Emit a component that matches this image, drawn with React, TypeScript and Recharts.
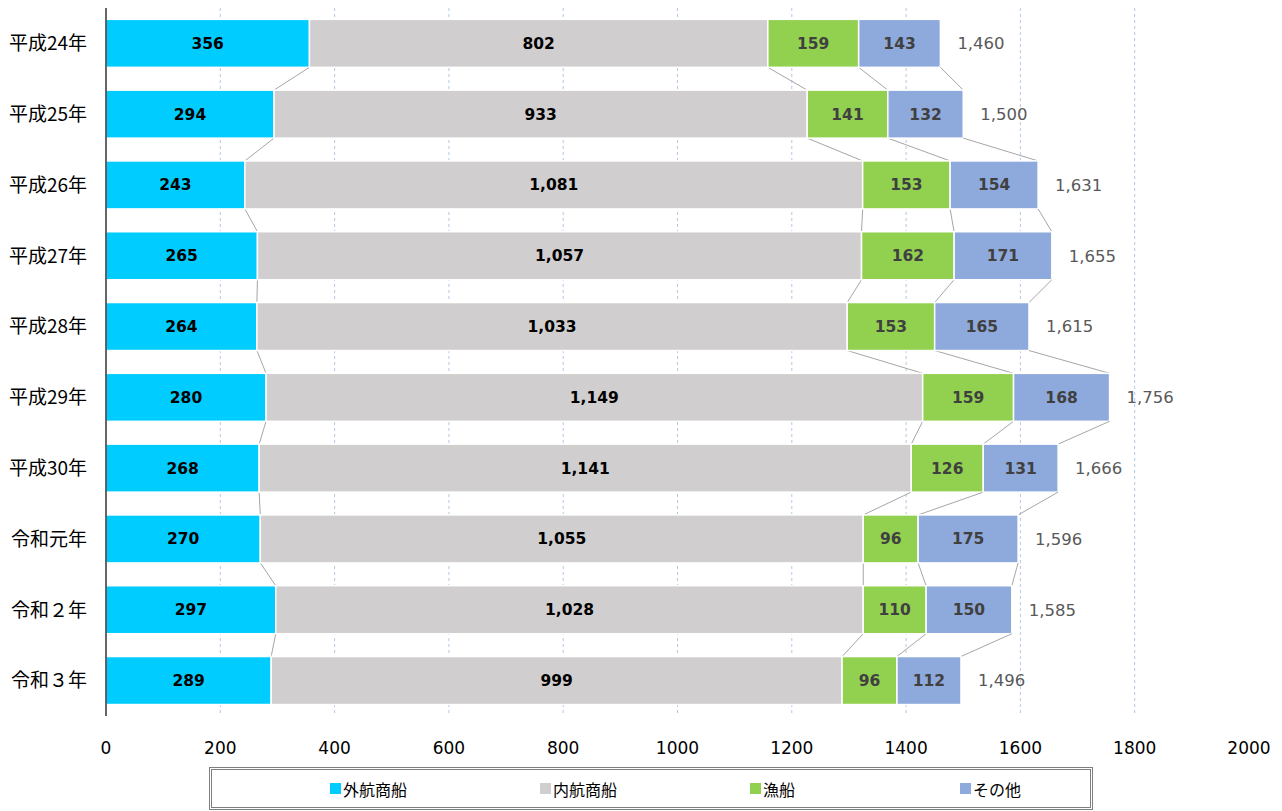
import { BarChart, Bar, XAxis, YAxis, CartesianGrid, LabelList } from 'recharts'

const categories = ['平成24年', '平成25年', '平成26年', '平成27年', '平成28年', '平成29年', '平成30年', '令和元年', '令和２年', '令和３年']
const gaikou = [356, 294, 243, 265, 264, 280, 268, 270, 297, 289]
const naikou = [802, 933, 1081, 1057, 1033, 1149, 1141, 1055, 1028, 999]
const gyosen = [159, 141, 153, 162, 153, 159, 126, 96, 110, 96]
const sonota = [143, 132, 154, 171, 165, 168, 131, 175, 150, 112]
const xTicks = [0, 200, 400, 600, 800, 1000, 1200, 1400, 1600, 1800, 2000]

const series = [
  { key: 'gaikou', name: '外航商船', values: gaikou, color: '#00CCFF', labelColor: '#000000' },
  { key: 'naikou', name: '内航商船', values: naikou, color: '#D0CECE', labelColor: '#000000' },
  { key: 'gyosen', name: '漁船', values: gyosen, color: '#92D050', labelColor: '#404040' },
  { key: 'sonota', name: 'その他', values: sonota, color: '#8EA9DB', labelColor: '#404040' },
]

// running sums: right edge of each series per row
const cumEnds = series.map((_, s) =>
  categories.map((_, i) => series.slice(0, s + 1).reduce((a, b) => a + b.values[i], 0)))

const data = categories.map((name, i) => {
  const row: Record<string, string | number> = { name }
  series.forEach(s => { row[s.key] = s.values[i] })
  row.total = cumEnds[3][i]
  return row
})

const W = 1282
const H = 811
const MARGIN = { top: 8, right: 33, bottom: 55, left: 0 }
const X_AXIS_H = 40
const BAND = (H - MARGIN.top - MARGIN.bottom - X_AXIS_H) / categories.length

const NUM_FONT = '"DejaVu Sans", "Noto Sans CJK JP", sans-serif'
const JP_FONT = '"Noto Sans CJK JP", sans-serif'
const fmt = (v: unknown) => Number(v).toLocaleString('en-US')

// bar segment + Excel-style series line to the same edge on the next row
const makeShape = (s: number) => (props: any) => {
  const { x, y, width, height, index, fill } = props
  const val = series[s].values[index]
  const k = val ? width / val : 0
  const x0 = x + width - k * cumEnds[s][index]
  const hasNext = index < categories.length - 1
  const nextX = hasNext ? x0 + k * cumEnds[s][index + 1] : 0
  return (
    <g>
      <rect x={x} y={y} width={width} height={height} fill={fill} stroke="#ffffff" strokeWidth={1.5} />
      {hasNext && (
        <line x1={x + width} y1={y + height} x2={nextX} y2={y + BAND} stroke="#A6A6A6" strokeWidth={1} />
      )}
    </g>
  )
}

const xMax = xTicks[xTicks.length - 1]
const gridGen = ({ offset }: any) =>
  xTicks.slice(1, -1).map(t => offset.left + (t / xMax) * offset.width)

export default function App() {
  return (
    <div style={{ position: 'absolute', left: 0, top: 0, width: W, height: H, background: '#fff' }}>
      <BarChart
        width={W}
        height={H}
        data={data}
        layout="vertical"
        margin={MARGIN}
        barCategoryGap="16%"
      >
        <CartesianGrid
          horizontal={false}
          strokeDasharray="3 3"
          stroke="#B4C7E7"
          verticalCoordinatesGenerator={gridGen}
        />
        <XAxis
          type="number"
          domain={[0, xMax]}
          ticks={xTicks}
          axisLine={false}
          tickLine={false}
          height={X_AXIS_H}
          tickMargin={20}
          interval={0}
          tick={{ fontSize: 17, fill: '#000', fontFamily: NUM_FONT }}
        />
        <YAxis
          type="category"
          dataKey="name"
          width={106}
          axisLine={{ stroke: '#000000', strokeWidth: 1.2 }}
          tickLine={false}
          tickMargin={13}
          tick={{ fontSize: 19, fill: '#000', fontFamily: JP_FONT }}
        />
        {series.map((s, si) => (
          <Bar
            key={s.key}
            dataKey={s.key}
            name={s.name}
            stackId="a"
            fill={s.color}
            isAnimationActive={false}
            shape={makeShape(si)}
          >
            <LabelList
              dataKey={s.key}
              position="center"
              formatter={fmt}
              fill={s.labelColor}
              fontSize={15.5}
              fontWeight="bold"
              fontFamily={NUM_FONT}
            />
            {si === series.length - 1 && (
              <LabelList
                dataKey="total"
                position="right"
                offset={17}
                formatter={fmt}
                fill="#595959"
                fontSize={16.5}
                fontFamily={NUM_FONT}
              />
            )}
          </Bar>
        ))}
      </BarChart>
      <div
        style={{
          position: 'absolute', left: 209, top: 767, width: 884, height: 43,
          border: '3px double #7F7F7F', display: 'grid',
          gridTemplateColumns: '210px 210px 210px 210px', paddingLeft: 118,
          alignItems: 'center', boxSizing: 'border-box',
        }}
      >
        {series.map(s => (
          <div key={s.key} style={{ display: 'flex', alignItems: 'center', fontFamily: JP_FONT, fontSize: 16, color: '#000' }}>
            <span style={{ width: 11, height: 11, background: s.color, marginRight: 2, display: 'inline-block' }} />
            {s.name}
          </div>
        ))}
      </div>
    </div>
  )
}
